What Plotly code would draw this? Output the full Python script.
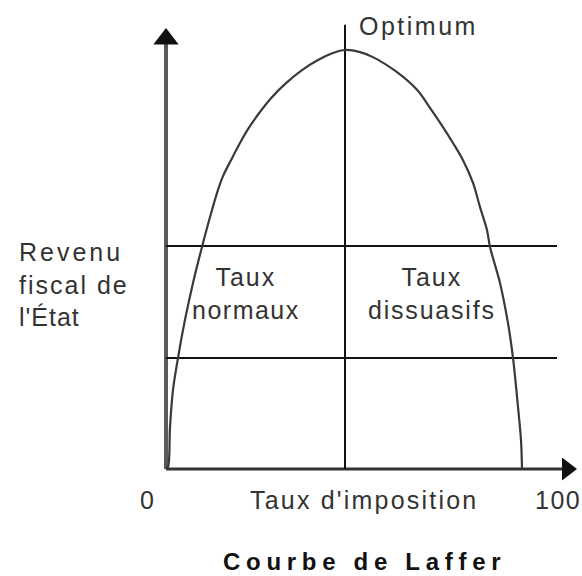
import plotly.graph_objects as go

# Laffer curve (x = tax rate %, y = revenue, peak = 100)
curve_x = [0.0, 0.5, 1.0, 1.75, 3.0, 4.75, 6.75, 9.0, 11.5, 13.0, 14.25, 16.25,
           18.5, 20.5, 23.25, 26.25, 30.0, 34.0, 38.0, 41.75, 44.75, 48.5, 51.75,
           57.75, 62.75, 66.0, 69.25, 71.75, 74.25, 76.75, 78.5, 80.25, 81.0,
           83.5, 85.5, 86.75, 88.0, 88.75, 89.0]
curve_y = [0.0, 0.5, 10.0, 18.9, 26.5, 35.6, 44.4, 53.0, 61.8, 66.6, 69.9, 73.7,
           77.8, 81.1, 84.9, 88.5, 92.1, 95.2, 97.6, 99.3, 100.0, 99.5, 98.3,
           94.7, 90.5, 86.2, 81.6, 77.8, 73.7, 68.3, 62.5, 57.0, 53.0,
           44.4, 34.8, 26.5, 14.8, 6.9, 0.0]

optimum_x = 44.75
optimum_top = 106
band_levels = [53.2, 26.5]
band_end = 97.75
x_axis_end = 99
y_axis_end = 101.5

x_tick_labels = ["0", "100"]
x_tick_pos = [-4.75, 98]

txt = dict(family="Liberation Sans, Arial, sans-serif", size=25, color="#333333")


def spaced(s, px):
    return '<span style="letter-spacing:%spx">%s</span>' % (px, s)


fig = go.Figure()

# axes drawn as lines
fig.add_trace(go.Scatter(x=[0, 0], y=[0, y_axis_end], mode="lines",
                         line=dict(color="#5a5a5a", width=4), hoverinfo="skip"))
fig.add_trace(go.Scatter(x=[0, x_axis_end], y=[0, 0], mode="lines",
                         line=dict(color="#333333", width=3), hoverinfo="skip"))
# arrow heads
fig.add_trace(go.Scatter(x=[0], y=[102.6], mode="markers",
                         marker=dict(symbol="triangle-up", size=22, color="#111111"),
                         hoverinfo="skip"))
fig.add_trace(go.Scatter(x=[100.25], y=[0], mode="markers",
                         marker=dict(symbol="triangle-right", size=20, color="#111111"),
                         hoverinfo="skip"))

# horizontal bands
for lvl in band_levels:
    fig.add_trace(go.Scatter(x=[0, band_end], y=[lvl, lvl], mode="lines",
                             line=dict(color="#111111", width=2), hoverinfo="skip"))

# optimum line
fig.add_trace(go.Scatter(x=[optimum_x, optimum_x], y=[0, optimum_top], mode="lines",
                         line=dict(color="#111111", width=2), hoverinfo="skip"))

# the curve
fig.add_trace(go.Scatter(x=curve_x, y=curve_y, mode="lines",
                         line=dict(color="#3a3a3a", width=2.2, shape="spline", smoothing=1),
                         hoverinfo="skip"))

ann = [
    dict(x=47.75, y=105.7, text=spaced("Optimum", 2.5), xanchor="left", yanchor="middle"),
    dict(x=-37.25, y=44.0,
         text=spaced("Revenu", 3) + "<br>" + spaced("fiscal de", 2) + "<br>" + spaced("l'État", 1),
         xanchor="left", yanchor="middle", align="left"),
    dict(x=20.0, y=41.8, text=spaced("Taux", 2) + "<br>" + spaced("normaux", 1.5),
         xanchor="center", yanchor="middle"),
    dict(x=66.5, y=41.8, text=spaced("Taux", 2) + "<br>" + spaced("dissuasifs", 1.8),
         xanchor="center", yanchor="middle"),
    dict(x=49.5, y=-7.4, text=spaced("Taux d'imposition", 2.2), xanchor="center", yanchor="middle"),
    dict(x=49.5, y=-22, text="<b>" + spaced("Courbe de Laffer", 5.7) + "</b>",
         xanchor="center", yanchor="middle",
         font=dict(family="Liberation Sans, Arial, sans-serif", size=24, color="#111111")),
]
for lab, pos in zip(x_tick_labels, x_tick_pos):
    ann.append(dict(x=pos, y=-7.4, text=spaced(lab, 1.5), xanchor="center", yanchor="middle"))

for a in ann:
    a.setdefault("font", txt)
    a["showarrow"] = False
    a["xref"] = "x"
    a["yref"] = "y"

fig.update_layout(
    width=582, height=576,
    margin=dict(l=0, r=0, t=0, b=0),
    paper_bgcolor="white", plot_bgcolor="white",
    showlegend=False,
    annotations=ann,
    xaxis=dict(range=[-41.5, 104], visible=False, fixedrange=True),
    yaxis=dict(range=[-25.54, 111.93], visible=False, fixedrange=True),
)

fig.write_html("out.html", config={"displayModeBar": False},
               post_script="document.body.style.margin='0';document.body.style.overflow='hidden';")
